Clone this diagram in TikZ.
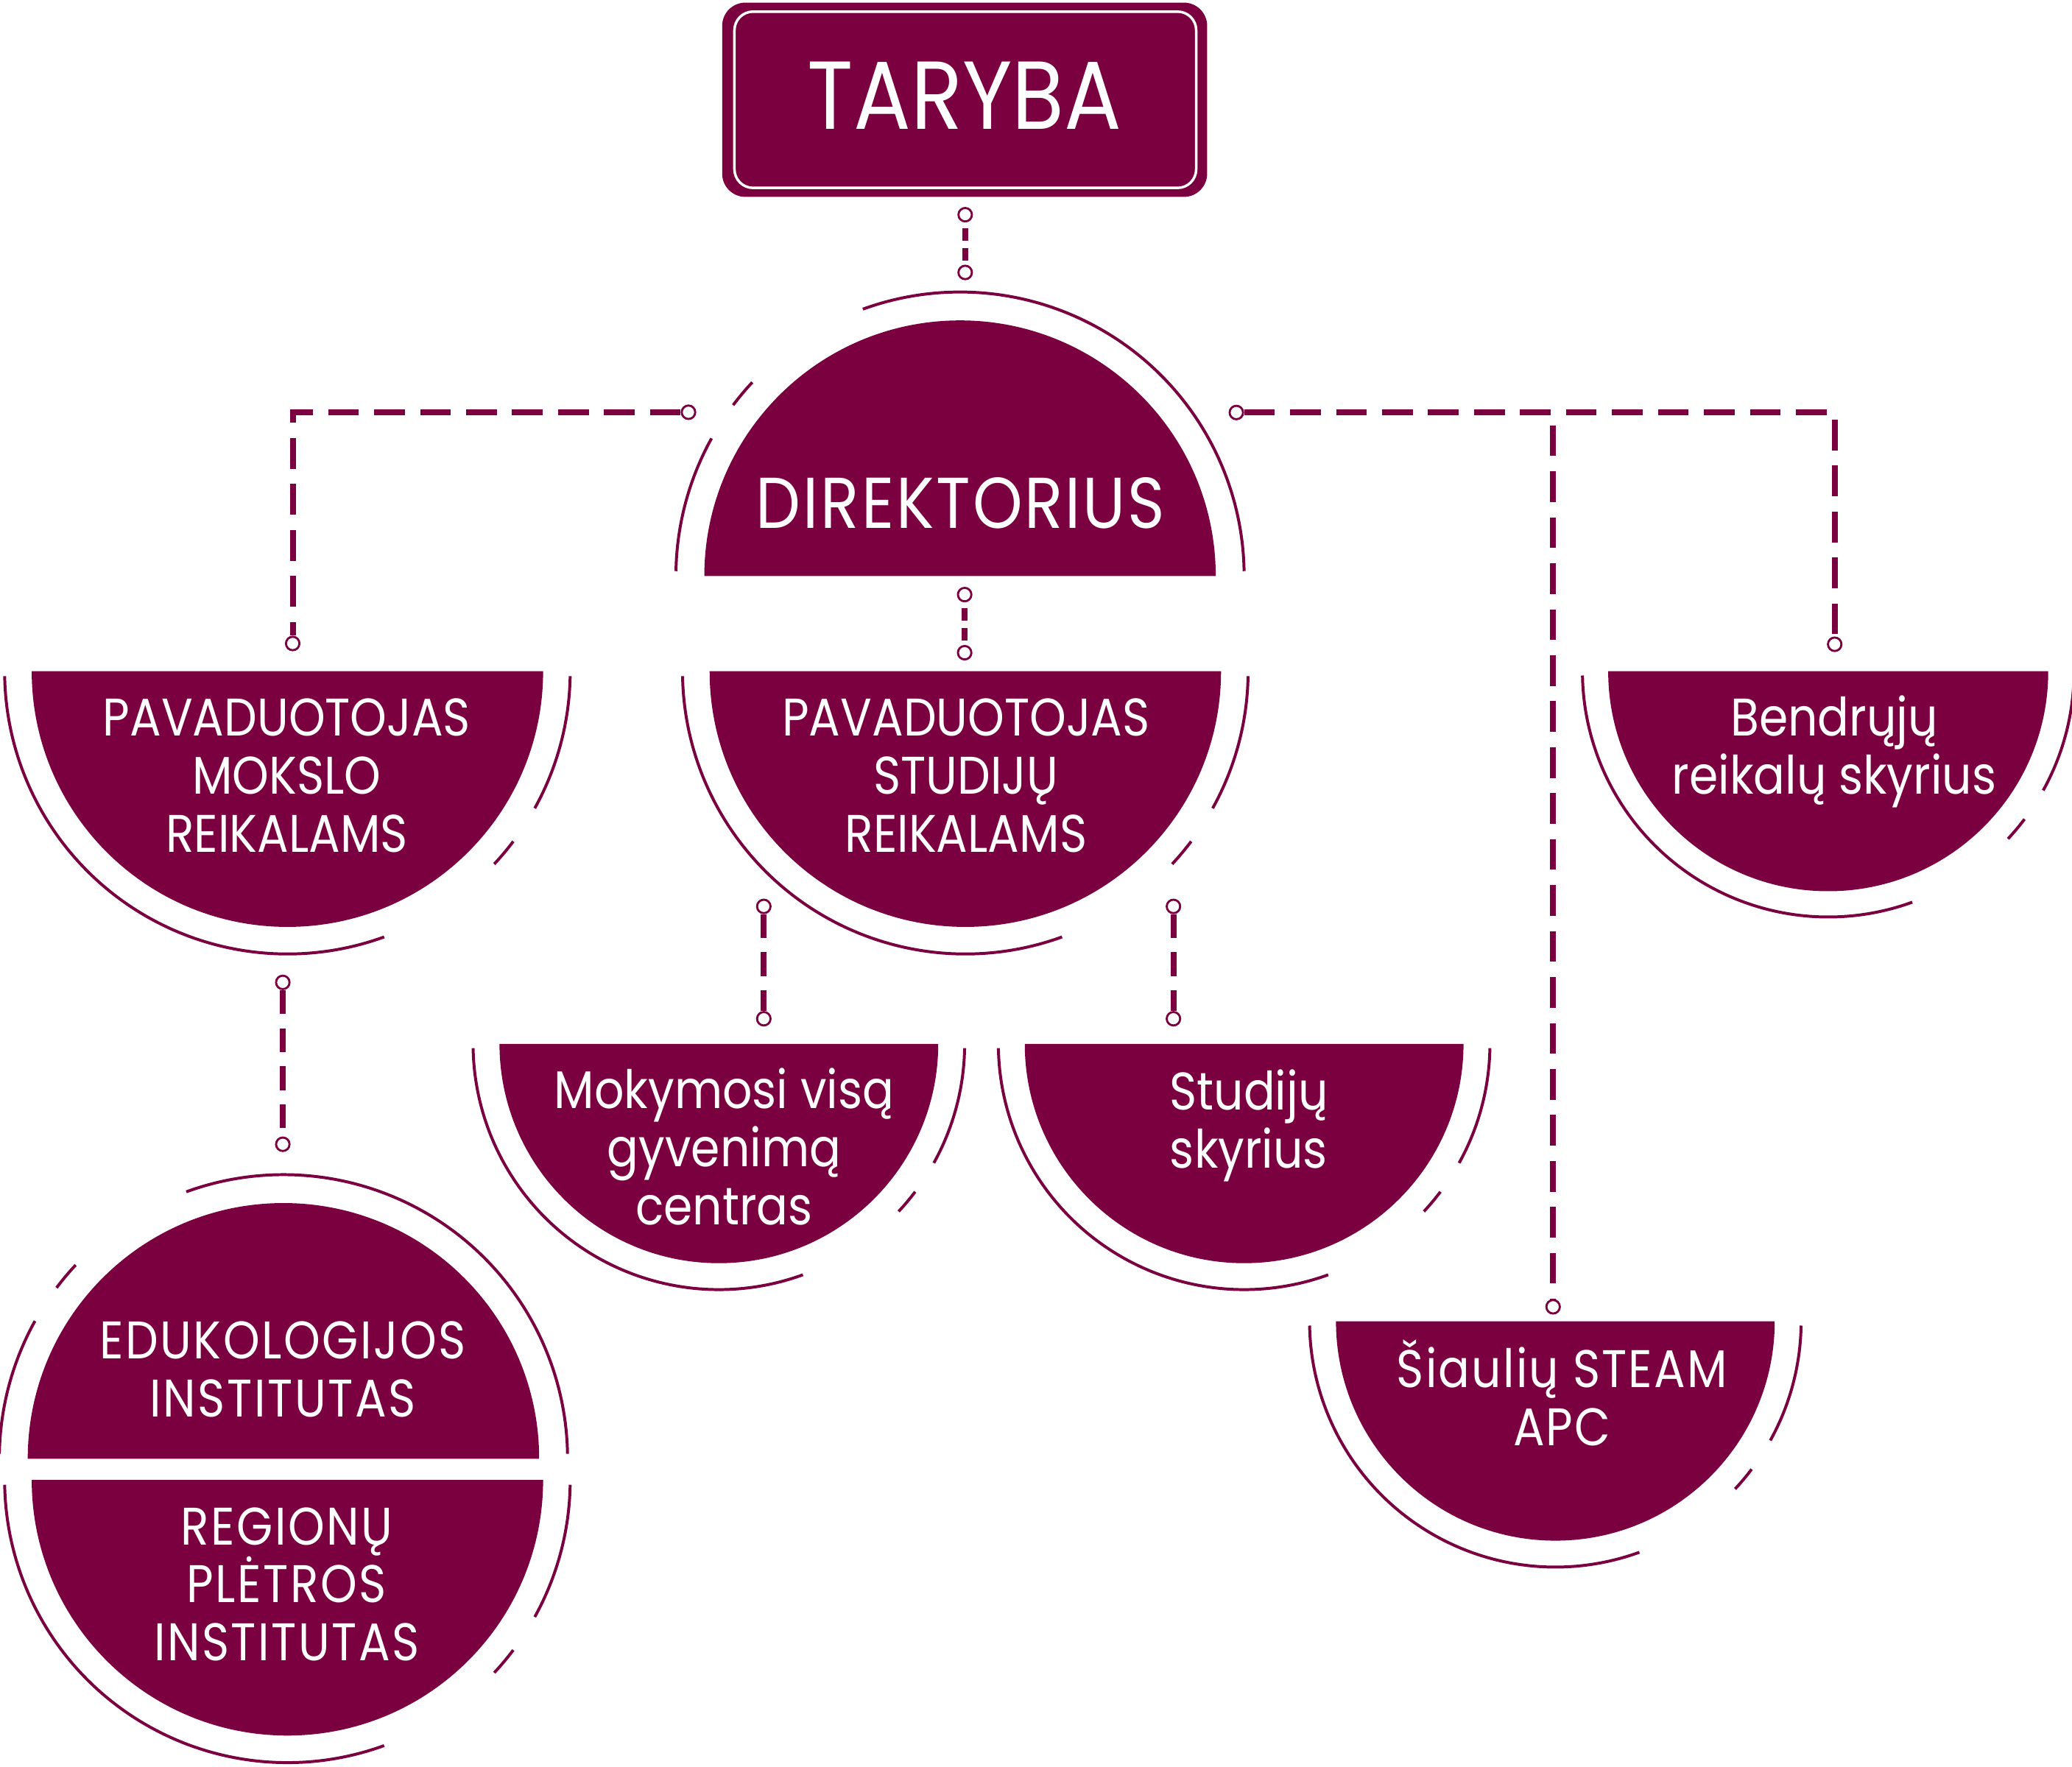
\documentclass[tikz,border=0pt]{standalone}
\usepackage{fontspec}
\setmainfont{Poppins}[FakeStretch=0.88]
\usepackage{tikz}
\usetikzlibrary{calc}
\definecolor{wine}{RGB}{123, 0, 63}

\begin{document}
\begin{tikzpicture}[x=1cm, y=1cm,
  lbl/.style={text=white, align=center, inner sep=0pt,
    font=\fontsize{11.4pt}{12.5pt}\selectfont},
  wide/.style={font=\fontsize{11.4pt}{12.5pt}\selectfont\addfontfeature{LetterSpace=#1}},
  ring/.style={draw=wine, line width=0.63pt},
  dot/.style={circle, draw=wine, fill=white, line width=0.45pt,
    minimum size=2.9pt, inner sep=0pt},
  link/.style={draw=wine, line width=1.27pt, dash pattern=on 6.6pt off 3.3pt},
  vlink/.style={link, dash pattern=on 5.1pt off 3.1pt},
  slink/.style={link, dash pattern=on 2.75pt off 1.58pt, dash phase=3.13pt},
  pics/bowl/.style n args={2}{code={
    \fill[wine] (-#1,0) arc[start angle=180, end angle=360, radius=#1] -- cycle;
    \draw[ring] (181:#2) arc[start angle=181, end angle=290, radius=#2];
    \draw[ring] (317:#2) arc[start angle=317, end angle=323, radius=#2];
    \draw[ring] (331:#2) arc[start angle=331, end angle=359, radius=#2];
  }},
  pics/dome/.style n args={2}{code={
    \fill[wine] (#1,0) arc[start angle=0, end angle=180, radius=#1] -- cycle;
    \draw[ring] (1:#2) arc[start angle=1, end angle=110, radius=#2];
    \draw[ring] (137:#2) arc[start angle=137, end angle=143, radius=#2];
    \draw[ring] (151:#2) arc[start angle=151, end angle=179, radius=#2];
  }}
]
\useasboundingbox (0,0) rectangle (15.68,-13.37);

% taryba
\node[fill=wine, rounded corners=5pt, text=white, text depth=0.06cm,
      font=\fontsize{20.8pt}{22pt}\selectfont,
      minimum width=3.67cm, minimum height=1.47cm] (taryba) at (7.30,-0.755) {TARYBA};
\draw[white, line width=0.55pt, rounded corners=4pt]
  ($(taryba.south west)+(0.10,0.075)$) rectangle ($(taryba.north east)-(0.09,0.075)$);

% direktorius and deputies
\pic at (7.265,-4.36) {dome={1.935}{2.15}};
\node[lbl, font=\fontsize{15.5pt}{17pt}\selectfont\addfontfeature{LetterSpace=3}]
  (dir) at (7.27,-3.81) {DIREKTORIUS};

\pic at (2.175,-5.08) {bowl={1.935}{2.14}};
\node[lbl] (pmok) at (2.17,-5.87) {PAVADUOTOJAS\\MOKSLO\\REIKALAMS};

\pic at (7.305,-5.08) {bowl={1.935}{2.14}};
\node[lbl] (pstud) at (7.31,-5.87) {PAVADUOTOJAS\\STUDIJŲ\\REIKALAMS};

\pic at (13.835,-5.08) {bowl={1.665}{1.86}};
\node[lbl] (bendr) at (13.88,-5.69) {Bendrųjų\\reikalų skyrius};

% units
\pic at (5.44,-7.90) {bowl={1.66}{1.86}};
\node[lbl] (mvgc) at (5.48,-8.68) {Mokymosi visą\\gyvenimą\\centras};

\pic at (9.415,-7.90) {bowl={1.66}{1.86}};
\node[lbl] (stsk) at (9.45,-8.52) {Studijų\\skyrius};

\pic at (11.77,-10.00) {bowl={1.66}{1.86}};
\node[lbl, wide=3] (steam) at (11.82,-10.54) {Šiaulių STEAM\\APC};

\pic at (2.145,-11.04) {dome={1.935}{2.15}};
\node[lbl, wide=3.5] (edu) at (2.14,-10.365) {EDUKOLOGIJOS\\INSTITUTAS};

\pic at (2.175,-11.20) {bowl={1.935}{2.14}};
\node[lbl, wide=3.5] (reg) at (2.17,-11.99) {REGIONŲ\\PLĖTROS\\INSTITUTAS};

% connectors
\node[dot] (t1) at (7.304,-1.625) {};
\node[dot] (t2) at (7.304,-2.062) {};
\node[dot] (a1) at (5.21,-3.12) {};
\node[dot] (a2) at (2.215,-4.87) {};
\node[dot] (b1) at (9.356,-3.122) {};
\node[dot] (b2) at (13.884,-4.876) {};
\node[dot] (b3) at (11.753,-9.89) {};
\node[dot] (c1) at (7.30,-4.50) {};
\node[dot] (c2) at (7.30,-4.94) {};
\node[dot] (e1) at (5.78,-6.86) {};
\node[dot] (e2) at (5.78,-7.71) {};
\node[dot] (f1) at (8.88,-6.86) {};
\node[dot] (f2) at (8.88,-7.71) {};
\node[dot] (g1) at (2.14,-7.435) {};
\node[dot] (g2) at (2.14,-8.66) {};

\draw[slink] (t1) -- (t2);
\draw[link] (a1) -| (a2);
\draw[link] (b1) -| (b2);
\draw[link] (b1) -| (b3);
\draw[slink] (c1) -- (c2);
\draw[vlink] (e1) -- (e2);
\draw[vlink] (f1) -- (f2);
\draw[vlink] (g1) -- (g2);
\end{tikzpicture}
\end{document}
